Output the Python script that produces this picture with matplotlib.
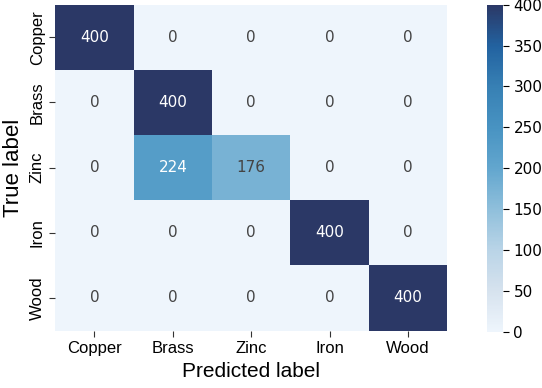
import numpy as np
import matplotlib
matplotlib.use("Agg")
import matplotlib.pyplot as plt
import seaborn as sns
from matplotlib.colors import LinearSegmentedColormap

labels = ["Copper", "Brass", "Zinc", "Iron", "Wood"]
cm = np.array([
    [400, 0, 0, 0, 0],
    [0, 400, 0, 0, 0],
    [0, 224, 176, 0, 0],
    [0, 0, 0, 400, 0],
    [0, 0, 0, 0, 400],
])

cmap = LinearSegmentedColormap.from_list("c", [
    (0.0, "#eef5fc"), (0.125, "#d6e2ee"), (0.25, "#b9d4e7"), (0.375, "#8fbfdb"),
    (0.5, "#62a6ce"), (0.625, "#4893c2"), (0.75, "#3780b4"), (0.875, "#2262a0"),
    (1.0, "#2b3866")])

fig = plt.figure(figsize=(5.42, 3.88), dpi=100)
ax = fig.add_axes([0.102, 0.148, 0.723, 0.84])
cax = fig.add_axes([0.898, 0.145, 0.03, 0.843])
sns.heatmap(cm, annot=True, fmt="d", cmap=cmap, vmin=0, vmax=400, ax=ax, cbar_ax=cax,
            annot_kws={"fontsize": 11, "family": "DejaVu Sans"})
for t in ax.texts:
    v = int(t.get_text())
    t.set_color("white" if v >= 200 else "#444444")
ax.set_xticklabels(labels, fontsize=12, family="Liberation Sans")
ax.set_yticklabels(labels, fontsize=12, family="Liberation Sans", rotation=90, va="center")
ax.tick_params(length=4, color="#333333")
ax.set_xlabel("Predicted label", fontsize=15, family="Liberation Sans")
ax.set_ylabel("True label", fontsize=16, family="Liberation Sans")
cax.tick_params(labelsize=11, length=4)
cax.set_yticks([0, 50, 100, 150, 200, 250, 300, 350, 400])
for s in cax.spines.values():
    s.set_visible(False)
fig.savefig("out.png", dpi=100)
